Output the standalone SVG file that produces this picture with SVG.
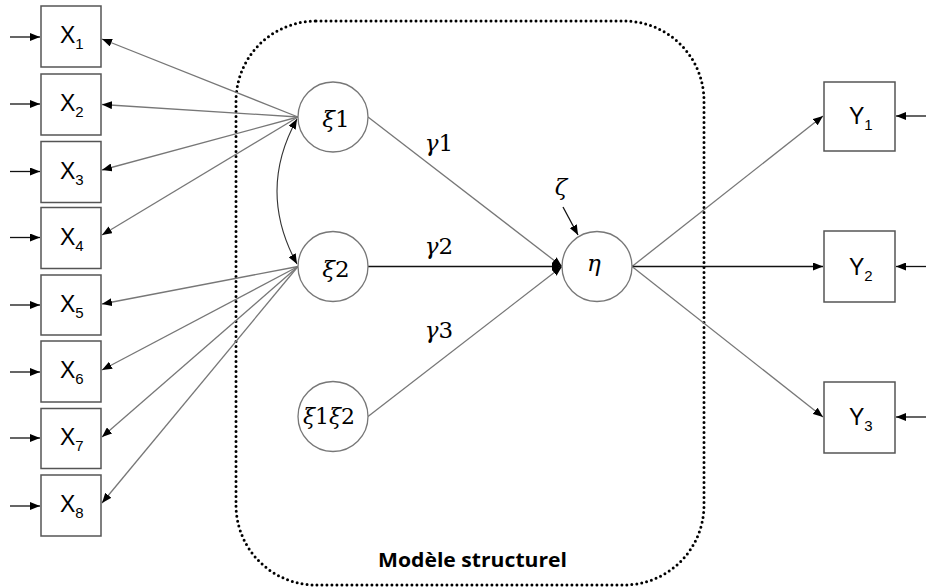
<svg xmlns="http://www.w3.org/2000/svg" width="926" height="588" viewBox="0 0 926 588">
<style>
.box{fill:#fff;stroke:#555;stroke-width:1.5}
.circ{fill:#fff;stroke:#777;stroke-width:1.3}
.lbl{font-family:"Liberation Sans",Arial,sans-serif;font-size:23px;fill:#000}
.sub{font-size:15px}
.math{font-family:"DejaVu Serif","Liberation Serif",serif;font-size:23px;fill:#000}
.it{font-style:italic}
.ln{fill:none;stroke:#777;stroke-width:1.3}
.lnk{fill:none;stroke:#111;stroke-width:1.3}
.arc{fill:none;stroke:#333;stroke-width:1.1}
.title{font-family:"Open Sans","Liberation Sans",sans-serif;font-weight:bold;font-size:19.5px;fill:#000}
</style>
<defs>
<marker id="ah" markerUnits="userSpaceOnUse" markerWidth="11" markerHeight="8" refX="10" refY="4" orient="auto-start-reverse">
<path d="M0,0 L10,4 L0,8 Z" fill="#000"/>
</marker>
</defs>
<rect x="236" y="21" width="468" height="564" rx="80" ry="80" fill="none" stroke="#000" stroke-width="3" stroke-dasharray="0 5" stroke-linecap="round"/>
<text class="title" x="378" y="567" textLength="189" lengthAdjust="spacingAndGlyphs">Modèle structurel</text>
<g id="connectors">
<line class="lnk" x1="10" y1="37" x2="40" y2="37" marker-end="url(#ah)"/>
<line class="lnk" x1="10" y1="104" x2="40" y2="104" marker-end="url(#ah)"/>
<line class="lnk" x1="10" y1="171.5" x2="40" y2="171.5" marker-end="url(#ah)"/>
<line class="lnk" x1="10" y1="237.5" x2="40" y2="237.5" marker-end="url(#ah)"/>
<line class="lnk" x1="10" y1="305" x2="40" y2="305" marker-end="url(#ah)"/>
<line class="lnk" x1="10" y1="372" x2="40" y2="372" marker-end="url(#ah)"/>
<line class="lnk" x1="10" y1="438" x2="40" y2="438" marker-end="url(#ah)"/>
<line class="lnk" x1="10" y1="506" x2="40" y2="506" marker-end="url(#ah)"/>
<line class="ln" x1="298" y1="117" x2="102" y2="39" marker-end="url(#ah)"/>
<line class="ln" x1="298" y1="117" x2="102" y2="104.5" marker-end="url(#ah)"/>
<line class="ln" x1="298" y1="117" x2="102" y2="170" marker-end="url(#ah)"/>
<line class="ln" x1="298" y1="117" x2="102" y2="235" marker-end="url(#ah)"/>
<line class="ln" x1="298" y1="266.5" x2="102" y2="304" marker-end="url(#ah)"/>
<line class="ln" x1="298" y1="266.5" x2="102" y2="370" marker-end="url(#ah)"/>
<line class="ln" x1="298" y1="266.5" x2="102" y2="437" marker-end="url(#ah)"/>
<line class="ln" x1="298" y1="266.5" x2="102" y2="503" marker-end="url(#ah)"/>
<path class="arc" d="M297,119 Q257,191 297,264" marker-start="url(#ah)" marker-end="url(#ah)"/>
<line class="ln" x1="368" y1="117" x2="562" y2="266.5" marker-end="url(#ah)"/>
<line class="lnk" x1="368" y1="266.5" x2="562" y2="266.5" marker-end="url(#ah)"/>
<line class="ln" x1="368" y1="416.5" x2="562" y2="266.5" marker-end="url(#ah)"/>
<line class="lnk" x1="563" y1="207" x2="578" y2="235" marker-end="url(#ah)"/>
<line class="ln" x1="632" y1="266.5" x2="823" y2="116" marker-end="url(#ah)"/>
<line class="lnk" x1="632" y1="266.5" x2="823" y2="266.5" marker-end="url(#ah)"/>
<line class="ln" x1="632" y1="266.5" x2="823" y2="417" marker-end="url(#ah)"/>
<line class="lnk" x1="926" y1="116" x2="896" y2="116" marker-end="url(#ah)"/>
<line class="lnk" x1="926" y1="266.5" x2="896" y2="266.5" marker-end="url(#ah)"/>
<line class="lnk" x1="926" y1="417" x2="896" y2="417" marker-end="url(#ah)"/>
</g>
<g id="X1"><rect class="box" x="41" y="6" width="60" height="61"/><text class="lbl" x="60" y="43">X<tspan class="sub" dy="6">1</tspan></text></g>
<g id="X2"><rect class="box" x="41" y="74" width="60" height="61"/><text class="lbl" x="60" y="111">X<tspan class="sub" dy="6">2</tspan></text></g>
<g id="X3"><rect class="box" x="41" y="141.5" width="60" height="61"/><text class="lbl" x="60" y="178.5">X<tspan class="sub" dy="6">3</tspan></text></g>
<g id="X4"><rect class="box" x="41" y="207.5" width="60" height="61"/><text class="lbl" x="60" y="244.5">X<tspan class="sub" dy="6">4</tspan></text></g>
<g id="X5"><rect class="box" x="41" y="275" width="60" height="60"/><text class="lbl" x="60" y="312">X<tspan class="sub" dy="6">5</tspan></text></g>
<g id="X6"><rect class="box" x="41" y="341" width="60" height="61"/><text class="lbl" x="60" y="378">X<tspan class="sub" dy="6">6</tspan></text></g>
<g id="X7"><rect class="box" x="41" y="408.5" width="60" height="60"/><text class="lbl" x="60" y="445">X<tspan class="sub" dy="6">7</tspan></text></g>
<g id="X8"><rect class="box" x="41" y="475" width="60" height="61"/><text class="lbl" x="60" y="512">X<tspan class="sub" dy="6">8</tspan></text></g>
<g id="xi1"><circle class="circ" cx="333" cy="117" r="35"/><text class="math" x="336" y="127" text-anchor="middle"><tspan class="it">ξ</tspan>1</text></g>
<g id="xi2"><circle class="circ" cx="333" cy="266.5" r="35"/><text class="math" x="336" y="276.5" text-anchor="middle"><tspan class="it">ξ</tspan>2</text></g>
<g id="xi1xi2"><circle class="circ" cx="333" cy="416.5" r="35"/><text class="math" x="303" y="424" textLength="52" lengthAdjust="spacingAndGlyphs"><tspan class="it">ξ</tspan>1<tspan class="it">ξ</tspan>2</text></g>
<g id="eta"><circle class="circ" cx="597" cy="266.5" r="35"/><text class="math it" x="594" y="271" text-anchor="middle">η</text></g>
<g id="labels">
<text class="math" x="439" y="151" text-anchor="middle"><tspan class="it">γ</tspan>1</text>
<text class="math" x="439" y="254" text-anchor="middle"><tspan class="it">γ</tspan>2</text>
<text class="math" x="439" y="338" text-anchor="middle"><tspan class="it">γ</tspan>3</text>
<text class="math it" x="561" y="195" text-anchor="middle">ζ</text>
</g>
<g id="Y1"><rect class="box" x="824" y="82" width="71" height="69"/><text class="lbl" x="849" y="124">Y<tspan class="sub" dy="6">1</tspan></text></g>
<g id="Y2"><rect class="box" x="824" y="231" width="71" height="71"/><text class="lbl" x="849" y="275">Y<tspan class="sub" dy="6">2</tspan></text></g>
<g id="Y3"><rect class="box" x="824" y="382" width="71" height="71"/><text class="lbl" x="849" y="425">Y<tspan class="sub" dy="6">3</tspan></text></g>
</svg>
